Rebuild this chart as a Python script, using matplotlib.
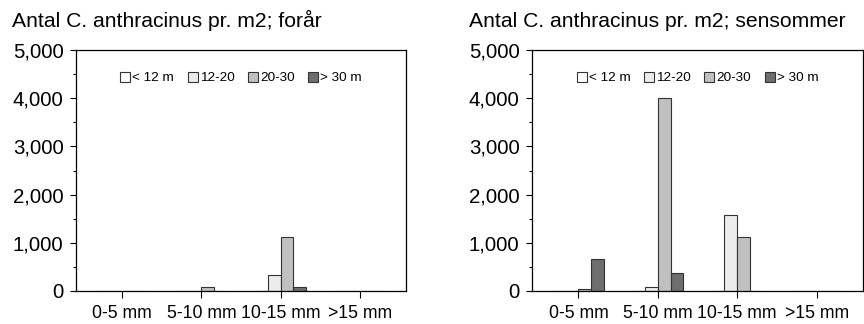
import matplotlib
matplotlib.use("Agg")
import matplotlib.pyplot as plt
from matplotlib.ticker import FuncFormatter, MultipleLocator
import numpy as np

plt.rcParams['font.family'] = ['Liberation Sans', 'DejaVu Sans']

categories = ["0-5 mm", "5-10 mm", "10-15 mm", ">15 mm"]
series_names = ["< 12 m", "12-20", "20-30", "> 30 m"]

spring_lt12 = [0, 0, 0, 0]
spring_12_20 = [0, 0, 325, 0]
spring_20_30 = [0, 90, 1110, 0]
spring_gt30 = [0, 0, 90, 0]

late_lt12 = [0, 0, 0, 0]
late_12_20 = [0, 90, 1570, 0]
late_20_30 = [50, 4000, 1110, 0]
late_gt30 = [660, 380, 0, 0]

titles = ["Antal C. anthracinus pr. m2; forår", "Antal C. anthracinus pr. m2; sensommer"]
colors = ["#ffffff", "#ececec", "#c0c0c0", "#6e6e6e"]

fig = plt.figure(figsize=(8.64, 3.24), dpi=100)
axes_rects = [[76/864, 1-291/324, 330/864, 241/324],
              [532/864, 1-291/324, 331/864, 241/324]]
title_x = [12/864, 469/864]
datasets = [[spring_lt12, spring_12_20, spring_20_30, spring_gt30],
            [late_lt12, late_12_20, late_20_30, late_gt30]]

w = 0.16
offsets = (np.arange(4) - 1.5) * w
x = np.arange(len(categories))

for rect, data, title, tx in zip(axes_rects, datasets, titles, title_x):
    ax = fig.add_axes(rect)
    for vals, name, c, off in zip(data, series_names, colors, offsets):
        ax.bar(x + off, vals, width=w, color=c, edgecolor="#333333",
               linewidth=0.8, label=name, zorder=2)
    ax.set_xlim(-0.585, 3.585)
    ax.set_ylim(0, 5000)
    ax.set_xticks(x)
    ax.set_xticklabels(categories, fontsize=12.7)
    ax.yaxis.set_major_locator(MultipleLocator(1000))
    ax.yaxis.set_minor_locator(MultipleLocator(500))
    ax.yaxis.set_major_formatter(FuncFormatter(lambda v, p: f"{int(v):,}"))
    ax.tick_params(axis='y', which='major', labelsize=14.7, length=4, width=0.8, pad=5)
    ax.tick_params(axis='y', which='minor', length=2.2, width=0.8)
    ax.tick_params(axis='x', which='major', length=4.8, width=0.8, pad=5.5)
    for s in ax.spines.values():
        s.set_linewidth(0.9)
        s.set_color("#000000")
    ax.legend(loc='center', bbox_to_anchor=(0.5, 0.884), ncol=4, frameon=False,
              fontsize=9.7, handlelength=0.75, handleheight=0.75,
              handletextpad=0.15, columnspacing=1.0, borderaxespad=0)
    fig.text(tx, 1-26.7/324, title, fontsize=15.2, ha='left', va='baseline')

fig.savefig("out.png", dpi=100)
